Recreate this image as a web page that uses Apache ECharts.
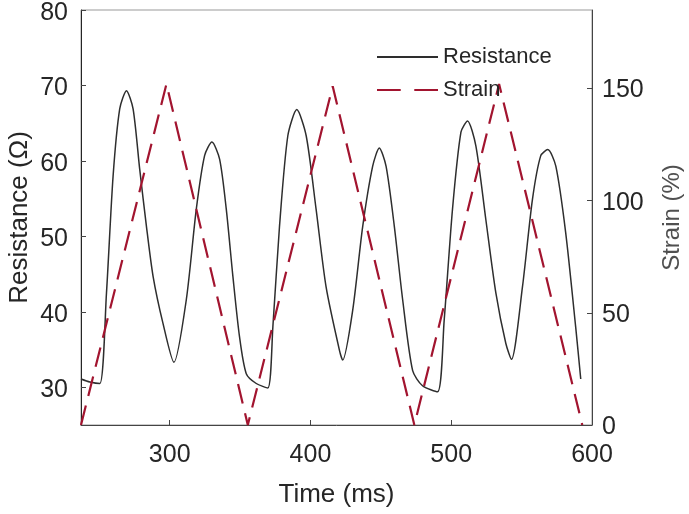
<!DOCTYPE html>
<html>
<head>
<meta charset="utf-8">
<script src="https://cdn.jsdelivr.net/npm/echarts@6/dist/echarts.min.js"></script>
<style>
html,body{margin:0;padding:0;background:#fff;}
#chart{width:689px;height:514px;}
</style>
</head>
<body>
<div id="chart"></div>
<script>
var timeR = [237, 243.3, 250.4, 255.1, 259.8, 264.5, 269.3, 274.0, 278.7, 283.5, 288.2, 295.2, 303.0, 311.8, 318.9, 324.8, 330.0, 335.5, 340.2, 344.9, 349.6, 354.4, 361.5, 369.7, 373.3, 378.0, 383.9, 390.3, 397.0, 404.0, 411.1, 420.6, 422.9, 430.0, 437.1, 444.2, 448.9, 453.7, 459.6, 465.5, 472.6, 479.6, 490.3, 495.0, 500.9, 506.9, 511.6, 517.5, 524.6, 531.7, 538.8, 542.8, 550.6, 557.7, 563.6, 568.6, 574.3, 581.3, 588.4, 592.0];
var resistance = [31.1, 30.7, 30.5, 42.5, 58, 66.9, 69.3, 66.9, 58.9, 51.3, 44.7, 38.5, 33.3, 41.6, 53.6, 60.7, 62.5, 60.2, 53.6, 44.7, 36.7, 31.8, 30.5, 29.9, 38, 51.3, 63.3, 66.8, 63.3, 53.6, 43.3, 34.9, 33.6, 40.2, 51.3, 59.3, 61.7, 59.3, 51.3, 41.6, 32.2, 30.2, 29.4, 38.9, 53.6, 63.8, 65.3, 62, 52.2, 42.5, 35.8, 33.7, 43.3, 54.9, 60.7, 61.5, 59.3, 50.5, 38, 31.1];
var timeS = [237, 297.7, 355.5, 415.8, 473.8, 534.0, 593.1];
var strain = [0, 152, 0, 151, 0, 152, 0];
var xTicks = [300, 400, 500, 600];
var resTicks = [30, 40, 50, 60, 70, 80];
var strainTicks = [0, 50, 100, 150];

function pairs(xs, ys) { return xs.map(function (x, i) { return [x, ys[i]]; }); }

var FONT = '"Liberation Sans", Arial, sans-serif';
var TXT = '#262626';
var RES_COLOR = '#2e2e2e';
var STRAIN_COLOR = '#A2142F';
var chart = echarts.init(document.getElementById('chart'), null, {renderer: 'canvas'});
chart.setOption({
  backgroundColor: '#ffffff',
  animation: false,
  textStyle: {fontFamily: FONT},
  grid: {left: 81, right: 97, top: 10, bottom: 89, outerBoundsMode: 'none', containLabel: false,
    show: true, borderColor: '#999', borderWidth: 1, backgroundColor: 'transparent'},
  legend: {
    orient: 'vertical', left: 372, top: 41, itemWidth: 61, itemHeight: 2, itemGap: 11,
    symbolKeepAspect: false,
    textStyle: {fontFamily: FONT, fontSize: 22, color: TXT},
    data: [
      {name: 'Resistance', icon: 'path://M0,0H61V1.5H0Z', itemStyle: {color: RES_COLOR}},
      {name: 'Strain', icon: 'path://M0,0H21V2H0Z M33,0H54V2H33Z', itemStyle: {color: STRAIN_COLOR}}
    ]
  },
  xAxis: {
    type: 'value', min: 237, max: 600,
    name: 'Time (ms)', nameLocation: 'middle', nameGap: 57, nameMoveOverlap: false,
    nameTextStyle: {fontFamily: FONT, fontSize: 26, color: TXT},
    axisLine: {show: true, onZero: false, lineStyle: {color: '#444', width: 1}},
    axisTick: {show: true, inside: true, length: 5, customValues: xTicks, lineStyle: {color: '#444'}},
    axisLabel: {customValues: xTicks, margin: 18, fontFamily: FONT, fontSize: 25, color: TXT},
    splitLine: {show: false}
  },
  yAxis: [{
    type: 'value', min: 25, max: 80, position: 'left',
    name: 'Resistance (Ω)', nameLocation: 'middle', nameGap: 48, nameMoveOverlap: false,
    nameTextStyle: {fontFamily: FONT, fontSize: 26, color: TXT},
    axisLine: {show: true, onZero: false, lineStyle: {color: '#262626', width: 1}},
    axisTick: {show: true, inside: true, length: 5, customValues: resTicks, lineStyle: {color: '#444'}},
    axisLabel: {customValues: resTicks, margin: 13, verticalAlign: 'top', lineHeight: 6, fontFamily: FONT, fontSize: 25, color: TXT},
    splitLine: {show: false}
  }, {
    type: 'value', min: 0, max: 185, position: 'right',
    name: 'Strain (%)', nameLocation: 'middle', nameGap: 68, nameMoveOverlap: false,
    nameTextStyle: {fontFamily: FONT, fontSize: 24, color: '#505050'},
    axisLine: {show: true, onZero: false, lineStyle: {color: '#444', width: 1}},
    axisTick: {show: true, inside: true, length: 5, customValues: strainTicks, lineStyle: {color: '#444'}},
    axisLabel: {customValues: strainTicks, margin: 10, verticalAlign: 'top', lineHeight: 4, fontFamily: FONT, fontSize: 25, color: TXT},
    splitLine: {show: false}
  }],
  series: [{
    name: 'Resistance', type: 'line', yAxisIndex: 0, symbol: 'none', smooth: 0.25,
    data: pairs(timeR, resistance),
    lineStyle: {color: RES_COLOR, width: 1.5}, itemStyle: {color: RES_COLOR}
  }, {
    name: 'Strain', type: 'line', yAxisIndex: 1, symbol: 'none',
    data: pairs(timeS, strain),
    lineStyle: {color: STRAIN_COLOR, width: 2.2, type: [20, 10]}, itemStyle: {color: STRAIN_COLOR}
  }]
});
</script>
</body>
</html>
